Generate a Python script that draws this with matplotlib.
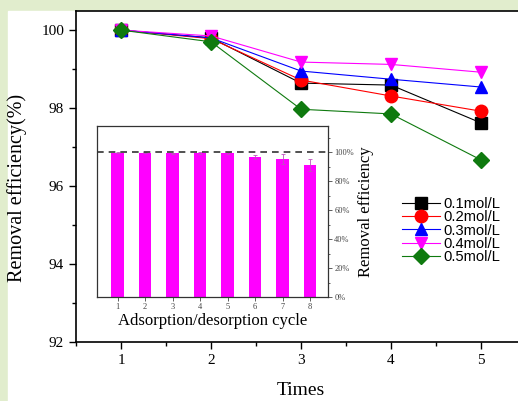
import matplotlib.pyplot as plt
from matplotlib.patches import Rectangle
from matplotlib.ticker import MultipleLocator, FuncFormatter

# main plot data (removal efficiency %, per reuse time)
times = [1, 2, 3, 4, 5]
conc_labels = ['0.1mol/L', '0.2mol/L', '0.3mol/L', '0.4mol/L', '0.5mol/L']
eff_01 = [100.0, 99.80, 98.64, 98.59, 97.62]
eff_02 = [100.0, 99.78, 98.72, 98.31, 97.92]
eff_03 = [100.0, 99.80, 98.95, 98.74, 98.54]
eff_04 = [100.0, 99.85, 99.18, 99.12, 98.92]
eff_05 = [100.0, 99.70, 97.97, 97.85, 96.67]

# inset data (adsorption/desorption cycles)
cycles = [1, 2, 3, 4, 5, 6, 7, 8]
cycle_eff = [99.5, 99.6, 99.3, 99.4, 99.2, 96.6, 95.2, 91.2]
cycle_err = [0.4, 0.4, 0.4, 0.5, 0.6, 1.5, 3.5, 4.0]

serif = ['Liberation Serif', 'DejaVu Serif']
sans = ['Liberation Sans', 'DejaVu Sans']

fig = plt.figure(figsize=(5.18, 4.01), dpi=100)
fig.patch.set_facecolor('#e1edcd')
# white page area
fig.patches.append(Rectangle((8 / 518, 0), 1, (401 - 11) / 401,
                             transform=fig.transFigure, color='white', zorder=-10))

ax = fig.add_axes([76 / 518, 59 / 401, 450 / 518, 331 / 401])
styles = [('k', 's'), ('#ff0000', 'o'), ('#0000ff', '^'), ('#ff00ff', 'v'), ('#0f7a0f', 'D')]
series = [eff_01, eff_02, eff_03, eff_04, eff_05]
for vals, (c, m), lab in zip(series, styles, conc_labels):
    ax.plot(times, vals, color=c, marker=m, markersize=9 if m != 'D' else 8,
            linewidth=0.8, label=lab)

ax.set_xlim(0.5, 5.5)
ax.set_ylim(92, 100.49)
ax.xaxis.set_major_locator(MultipleLocator(1))
ax.xaxis.set_minor_locator(MultipleLocator(0.5))
ax.yaxis.set_major_locator(MultipleLocator(2))
ax.yaxis.set_minor_locator(MultipleLocator(1))
ax.tick_params(which='both', direction='out', labelsize=11, width=1)
ax.tick_params(which='major', length=5)
ax.tick_params(which='minor', length=3)
for lbl in ax.get_xticklabels() + ax.get_yticklabels():
    lbl.set_family(serif)
for sp in ax.spines.values():
    sp.set_linewidth(1.2)
ax.set_xlabel('Times', family=serif, fontsize=14, labelpad=11)
ax.set_ylabel('Removal efficiency(%)', family=serif, fontsize=14.5)
ax.yaxis.set_label_coords(-0.108, 0.465)

ax.legend(loc='center left', bbox_to_anchor=(0.776, 0.425), bbox_transform=fig.transFigure,
          frameon=False, prop={'family': sans, 'size': 10.6}, labelspacing=-0.06,
          handlelength=2.6, handletextpad=0.2, borderpad=0, borderaxespad=0)

# inset
ins = fig.add_axes([97 / 518, 104 / 401, 231 / 518, 171 / 401])
ins.bar(cycles, cycle_eff, width=0.45, color='#ff00ff', yerr=cycle_err,
        error_kw=dict(ecolor='#c050c0', elinewidth=0.6, capsize=1.5, capthick=0.6))
ins.axhline(100, color='#333333', linestyle='--', linewidth=1.2, dashes=(4, 3))
ins.set_xlim(0.25, 8.65)
ins.set_ylim(0, 118)
ins.set_xticks(cycles)
ins.yaxis.tick_right()
ins.yaxis.set_label_position('right')
ins.yaxis.set_major_locator(MultipleLocator(20))
ins.yaxis.set_minor_locator(MultipleLocator(10))
ins.yaxis.set_major_formatter(FuncFormatter(lambda v, p: '%d%%' % v if v <= 100 else ''))
ins.tick_params(which='both', direction='out', labelsize=6, width=0.6, colors='#444444')
ins.tick_params(which='major', length=3, pad=1.5)
ins.tick_params(which='minor', length=1.5)
for lbl in ins.get_xticklabels() + ins.get_yticklabels():
    lbl.set_family(serif)
for sp in ins.spines.values():
    sp.set_linewidth(0.9)
    sp.set_color('#333333')
ins.set_xlabel('Adsorption/desorption cycle', family=serif, fontsize=12, labelpad=1)
ins.set_ylabel('Removal efficiency', family=serif, fontsize=12, labelpad=3)

fig.savefig('out.png', dpi=100, facecolor=fig.get_facecolor())
